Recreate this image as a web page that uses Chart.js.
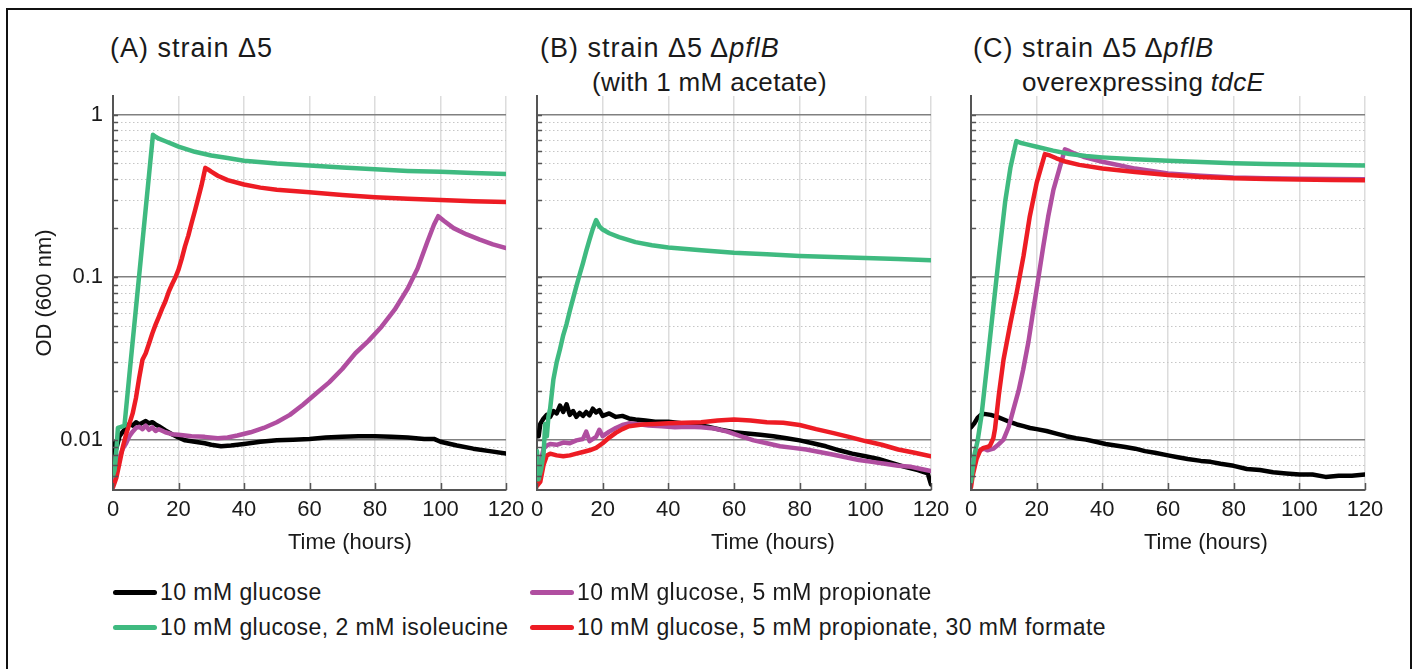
<!DOCTYPE html>
<html>
<head>
<meta charset="utf-8">
<script src="https://cdn.jsdelivr.net/npm/chart.js@4"></script>
<style>
  body { margin: 0; background: #fff; font-family: "Liberation Sans", Arial, sans-serif; color: #1a1a1a; }
  #page { position: relative; width: 1413px; height: 669px; overflow: hidden; }
  #frame { position: absolute; left: 6px; top: 8px; width: 1406px; height: 700px; border: 2px solid #111; box-sizing: border-box; }
  canvas { position: absolute; }
  .title { position: absolute; font-size: 27px; line-height: 32px; letter-spacing: 1px; white-space: nowrap; }
  .title2 { position: absolute; font-size: 26px; line-height: 32px; letter-spacing: 0.35px; white-space: nowrap; }
  .xt { position: absolute; font-size: 22px; line-height: 26px; white-space: nowrap; }
  .leg { position: absolute; font-size: 23px; line-height: 26px; letter-spacing: 0.45px; white-space: nowrap; }
  .sw { display: inline-block; width: 44px; height: 5px; border-radius: 3px; vertical-align: middle; margin-right: 3px; position: relative; top: -1px; }
</style>
</head>
<body>
<div id="page">
  <div id="frame"></div>
  <div class="title" style="left:110px;top:32px">(A) strain Δ5</div>
  <div class="title" style="left:540px;top:32px">(B) strain Δ5 Δ<i>pflB</i></div>
  <div class="title2" style="left:592px;top:66px">(with 1 mM acetate)</div>
  <div class="title" style="left:973px;top:32px">(C) strain Δ5 Δ<i>pflB</i></div>
  <div class="title2" style="left:1022px;top:66px">overexpressing <i>tdcE</i></div>

  <canvas id="panelA" width="532" height="474" style="left:0px;top:86px"></canvas>
  <canvas id="panelB" width="442" height="474" style="left:515px;top:86px"></canvas>
  <canvas id="panelC" width="441" height="474" style="left:950px;top:86px"></canvas>

  <div class="xt" style="left:288px;top:529px">Time (hours)</div>
  <div class="xt" style="left:711px;top:529px">Time (hours)</div>
  <div class="xt" style="left:1144px;top:529px">Time (hours)</div>

  <div class="leg" style="left:113px;top:579px"><span class="sw" style="background:#000"></span>10 mM glucose</div>
  <div class="leg" style="left:113px;top:614px"><span class="sw" style="background:#3fba80"></span>10 mM glucose, 2 mM isoleucine</div>
  <div class="leg" style="left:530px;top:579px"><span class="sw" style="background:#b04ea0"></span>10 mM glucose, 5 mM propionate</div>
  <div class="leg" style="left:530px;top:614px"><span class="sw" style="background:#ed1c24"></span>10 mM glucose, 5 mM propionate, 30 mM formate</div>
</div>
<script>
// axis values
const xTicks = [0, 20, 40, 60, 80, 100, 120];
const yTickValues = [0.005, 0.006, 0.007, 0.008, 0.009,
  0.01, 0.02, 0.03, 0.04, 0.05, 0.06, 0.07, 0.08, 0.09,
  0.1, 0.2, 0.3, 0.4, 0.5, 0.6, 0.7, 0.8, 0.9, 1];
const yMajor = [0.01, 0.1, 1];
const yLabels = ["0.01", "0.1", "1"];

// panel A: strain d5   [time (h), OD600]
const aGlucose = [[0,0.0082],[0.5,0.0095],[1,0.0088],[2,0.0105],[3,0.0112],[4,0.0118],[5,0.0125],[6,0.0122],[7,0.0128],[8,0.0124],[9,0.0127],[10,0.013],[11,0.0126],[12,0.0128],[13,0.0124],[14,0.0121],[16,0.0114],[18,0.0108],[20,0.0103],[22,0.0099],[25,0.0097],[28,0.0095],[30,0.0093],[33,0.0091],[36,0.0092],[40,0.0094],[45,0.0097],[50,0.0099],[55,0.01],[60,0.0101],[65,0.0103],[70,0.0104],[75,0.0105],[80,0.0105],[85,0.0104],[90,0.0103],[95,0.0101],[98,0.0101],[100,0.0097],[105,0.0092],[110,0.0088],[115,0.0085],[120,0.0082]];
const aIsoleucine = [[0,0.006],[0.5,0.0065],[1,0.0085],[1.5,0.0118],[2.5,0.012],[3.5,0.0122],[5,0.025],[7,0.064],[9,0.165],[11,0.425],[12.2,0.75],[13,0.73],[14,0.71],[16,0.685],[18,0.66],[20,0.635],[25,0.59],[30,0.56],[35,0.54],[40,0.52],[50,0.5],[60,0.486],[70,0.472],[80,0.46],[90,0.45],[100,0.444],[110,0.437],[120,0.431]];
const aPropionate = [[0,0.0057],[1,0.0068],[2,0.0078],[3,0.0088],[4,0.0095],[5,0.0105],[6,0.0112],[7,0.0118],[8,0.012],[9,0.0116],[10,0.0122],[11,0.0115],[12,0.0119],[13,0.0113],[14,0.0116],[16,0.0111],[18,0.0108],[20,0.0107],[24,0.0105],[28,0.0104],[32,0.0102],[35,0.0103],[38,0.0106],[42,0.0111],[46,0.0118],[50,0.0128],[54,0.0142],[58,0.0164],[62,0.0192],[66,0.0225],[70,0.0272],[74,0.034],[78,0.0405],[82,0.0495],[86,0.063],[90,0.085],[93,0.113],[96,0.165],[98,0.21],[99.3,0.237],[101,0.222],[104,0.2],[108,0.183],[112,0.17],[116,0.159],[120,0.151]];
const aFormate = [[0,0.0051],[1,0.0058],[2,0.0072],[3,0.009],[4,0.0108],[5,0.0125],[6,0.0145],[7,0.018],[8,0.024],[9,0.031],[10,0.034],[11,0.039],[12,0.045],[13,0.051],[14,0.057],[15,0.064],[16,0.071],[17,0.081],[18,0.09],[19,0.099],[20,0.111],[21,0.13],[22,0.155],[23,0.18],[24,0.215],[25,0.255],[26,0.305],[27,0.365],[28.2,0.47],[29,0.46],[30,0.445],[32,0.42],[35,0.395],[40,0.371],[45,0.355],[50,0.345],[60,0.333],[70,0.32],[80,0.31],[90,0.303],[100,0.298],[110,0.293],[120,0.29]];

// panel B: strain d5 dpflB + 1 mM acetate
const bGlucose = [[0,0.011],[0.5,0.0105],[1,0.0125],[2,0.0135],[3,0.0142],[4,0.0138],[5,0.015],[6,0.0145],[7,0.0162],[8,0.0148],[9,0.0165],[10,0.0142],[11,0.015],[12,0.0138],[13,0.0146],[14,0.014],[15,0.0148],[16,0.0141],[17,0.0155],[18,0.0147],[19,0.0152],[20,0.014],[22,0.0145],[24,0.0138],[26,0.014],[28,0.0135],[30,0.0133],[33,0.0131],[36,0.0129],[40,0.0129],[44,0.0126],[48,0.0124],[52,0.012],[56,0.0115],[60,0.0111],[64,0.0109],[68,0.0107],[72,0.0105],[76,0.0102],[80,0.0099],[84,0.0095],[88,0.0091],[92,0.0086],[96,0.0082],[100,0.0079],[104,0.0076],[108,0.0072],[112,0.0068],[116,0.0065],[119,0.0062],[120,0.0053]];
const bIsoleucine = [[0,0.0085],[0.5,0.0057],[1.2,0.0065],[2,0.0082],[2.5,0.0125],[3,0.0105],[3.5,0.014],[4,0.0155],[5,0.0235],[6,0.03],[7,0.036],[8,0.044],[9,0.0514],[10,0.062],[11,0.074],[12,0.088],[13,0.104],[14,0.122],[15,0.145],[16,0.17],[17,0.198],[18,0.224],[19,0.205],[20,0.196],[22,0.186],[25,0.176],[30,0.164],[35,0.157],[40,0.152],[50,0.146],[60,0.141],[70,0.138],[80,0.135],[90,0.133],[100,0.131],[110,0.129],[120,0.127]];
const bPropionate = [[0,0.0075],[0.5,0.006],[1,0.0072],[2,0.0088],[3,0.0092],[4,0.0094],[6,0.0093],[8,0.0096],[10,0.0095],[12,0.0099],[14,0.0101],[15,0.0112],[16,0.0098],[18,0.0104],[19,0.0115],[20,0.0105],[22,0.0112],[24,0.0118],[26,0.0123],[28,0.0126],[30,0.0125],[34,0.0122],[38,0.0121],[42,0.0119],[46,0.012],[50,0.0119],[54,0.0117],[58,0.0112],[62,0.0105],[66,0.0099],[70,0.0095],[74,0.0091],[78,0.0089],[82,0.0087],[86,0.0084],[90,0.0081],[94,0.0078],[98,0.0075],[102,0.0073],[106,0.0071],[110,0.0069],[114,0.0068],[117,0.0066],[120,0.0064]];
const bFormate = [[0,0.0052],[1,0.0055],[2,0.007],[3,0.008],[4,0.0082],[6,0.008],[8,0.0079],[10,0.008],[12,0.0082],[14,0.0084],[16,0.0086],[18,0.0089],[20,0.0095],[22,0.0103],[24,0.011],[26,0.0116],[28,0.0121],[32,0.0124],[36,0.0125],[40,0.0126],[45,0.0127],[50,0.0128],[55,0.0131],[60,0.0133],[65,0.0131],[70,0.0128],[75,0.0127],[80,0.0123],[85,0.0116],[90,0.011],[95,0.0104],[100,0.0098],[105,0.0093],[110,0.0087],[115,0.0083],[120,0.0079]];

// panel C: strain d5 dpflB overexpressing tdcE
const cGlucose = [[0,0.0119],[1,0.0126],[2,0.0136],[3,0.0142],[4,0.0144],[6,0.0142],[8,0.0138],[10,0.0133],[12,0.0128],[14,0.0124],[16,0.0121],[18,0.0118],[20,0.0116],[23,0.0113],[26,0.0109],[29,0.0105],[32,0.0102],[35,0.01],[38,0.0097],[41,0.0094],[44,0.0092],[47,0.009],[50,0.0088],[53,0.0085],[56,0.0083],[60,0.008],[63,0.0078],[66,0.0076],[70,0.0074],[73,0.0073],[76,0.0071],[80,0.0069],[84,0.0066],[88,0.0065],[92,0.0063],[96,0.0062],[100,0.0061],[104,0.0061],[108,0.0059],[112,0.006],[116,0.006],[120,0.0061]];
const cIsoleucine = [[0,0.0055],[1,0.008],[2,0.0098],[3.2,0.0141],[5,0.03],[6.8,0.065],[8.6,0.14],[10.4,0.29],[12,0.47],[13.8,0.686],[15,0.67],[17,0.655],[20,0.634],[25,0.6],[30,0.572],[35,0.555],[40,0.545],[50,0.53],[60,0.52],[70,0.51],[80,0.502],[90,0.497],[100,0.493],[110,0.489],[120,0.486]];
const cPropionate = [[0,0.0075],[0.3,0.006],[1,0.0072],[2,0.0082],[2.8,0.0086],[4,0.0088],[5,0.0086],[6.8,0.0088],[8,0.0092],[9.9,0.01],[11.5,0.012],[12.9,0.0153],[14.5,0.02],[15.9,0.027],[17.5,0.04],[19,0.063],[20.5,0.098],[22,0.154],[23.5,0.235],[25.1,0.344],[27,0.47],[28.6,0.61],[30,0.595],[32,0.57],[34.2,0.55],[40,0.512],[50,0.465],[60,0.434],[70,0.42],[80,0.41],[90,0.406],[100,0.403],[110,0.401],[120,0.4]];
const cFormate = [[0,0.0051],[0.5,0.006],[1.7,0.0076],[2.8,0.0086],[3.8,0.0089],[5,0.009],[5.8,0.0092],[6.8,0.0102],[7.3,0.0116],[8.5,0.019],[9.9,0.031],[12,0.052],[13.9,0.08],[16,0.135],[17.9,0.236],[20,0.38],[22.5,0.571],[24,0.56],[26,0.538],[29,0.512],[33,0.49],[40,0.466],[50,0.443],[60,0.425],[70,0.413],[80,0.405],[90,0.401],[100,0.398],[110,0.396],[120,0.394]];

const colors = { glucose: "#000000", isoleucine: "#3fba80", propionate: "#b04ea0", formate: "#ed1c24" };

Chart.defaults.font.family = '"Liberation Sans", Arial, sans-serif';
Chart.defaults.color = "#1a1a1a";

// dotted minor grid, inward ticks, y labels (only panel A)
const innerTicks = {
  id: "innerTicks",
  beforeDatasetsDraw(chart) {
    const { ctx, chartArea: a } = chart;
    const y = chart.scales.y;
    ctx.save();
    ctx.strokeStyle = "#c6c6c6";
    ctx.lineWidth = 1;
    ctx.setLineDash([1.5, 2.5]);
    yTickValues.forEach((v) => {
      if (yMajor.includes(v)) return;
      const py = Math.round(y.getPixelForValue(v)) + 0.5;
      if (py > a.bottom - 1) return;
      ctx.beginPath();
      ctx.moveTo(a.left, py);
      ctx.lineTo(a.right, py);
      ctx.stroke();
    });
    ctx.restore();
  },
  afterDatasetsDraw(chart, args, opts) {
    const { ctx, chartArea: a } = chart;
    const { x, y } = chart.scales;
    ctx.save();
    ctx.strokeStyle = "#555";
    ctx.lineWidth = 1.5;
    yTickValues.forEach((v) => {
      const py = Math.round(y.getPixelForValue(v)) + 0.5;
      if (py > a.bottom - 2) return;
      ctx.beginPath();
      ctx.moveTo(a.left, py);
      ctx.lineTo(a.left + 5, py);
      ctx.stroke();
    });
    xTicks.forEach((v) => {
      const px = Math.round(x.getPixelForValue(v)) + 0.5;
      ctx.beginPath();
      ctx.moveTo(px, a.bottom);
      ctx.lineTo(px, a.bottom - 7);
      ctx.stroke();
    });
    if (opts.labels) {
      ctx.fillStyle = "#1a1a1a";
      ctx.font = '22px "Liberation Sans", Arial, sans-serif';
      ctx.textAlign = "right";
      ctx.textBaseline = "middle";
      yLabels.forEach((s) => {
        ctx.fillText(s, a.left - 10, y.getPixelForValue(Number(s)));
      });
    }
    ctx.restore();
  },
};

function makePanel(id, series, yWidth, padRight, showY) {
  const datasets = series.map(([pairs, color, order]) => ({
    data: pairs.map(([t, od]) => ({ x: t, y: od })),
    borderColor: color,
    borderWidth: 4.5,
    pointRadius: 0,
    tension: 0,
    borderJoinStyle: "round",
    borderCapStyle: "round",
    order,
  }));
  return new Chart(document.getElementById(id), {
    type: "line",
    data: { datasets },
    plugins: [innerTicks],
    options: {
      responsive: false,
      animation: false,
      layout: { padding: { left: 0, top: 10, right: padRight, bottom: 0 } },
      plugins: { legend: { display: false }, tooltip: { enabled: false }, innerTicks: { labels: showY } },
      scales: {
        x: {
          type: "linear",
          min: 0,
          max: 120,
          ticks: { stepSize: 20, maxRotation: 0, padding: 7, font: { size: 22 }, color: "#1a1a1a" },
          grid: { color: "#dcdcdc", lineWidth: 1.5, drawTicks: false },
          border: { color: "#555", width: 2 },
          afterFit: (s) => { s.height = 70; },
        },
        y: {
          type: "logarithmic",
          min: 0.0049,
          max: 1.3,
          afterBuildTicks: (s) => { s.ticks = yTickValues.map((v) => ({ value: v })); },
          ticks: { display: false, autoSkip: false },
          grid: {
            drawTicks: false,
            lineWidth: 1.5,
            color: (c) => (c.tick && yMajor.includes(c.tick.value) ? "#808080" : "rgba(0,0,0,0)"),
          },
          border: { color: "#555", width: 2 },
          title: { display: showY, text: "OD (600 nm)", font: { size: 22 }, padding: { top: 32, bottom: 0 } },
          afterFit: (s) => { s.width = yWidth; },
        },
      },
    },
  });
}

makePanel("panelA", [
  [aGlucose, colors.glucose, 4], [aPropionate, colors.propionate, 3],
  [aFormate, colors.formate, 2], [aIsoleucine, colors.isoleucine, 1],
], 113, 26, true);
makePanel("panelB", [
  [bGlucose, colors.glucose, 4], [bPropionate, colors.propionate, 3],
  [bFormate, colors.formate, 2], [bIsoleucine, colors.isoleucine, 1],
], 22, 26, false);
makePanel("panelC", [
  [cGlucose, colors.glucose, 4], [cPropionate, colors.propionate, 3],
  [cFormate, colors.formate, 2], [cIsoleucine, colors.isoleucine, 1],
], 21, 26, false);
</script>
</body>
</html>
